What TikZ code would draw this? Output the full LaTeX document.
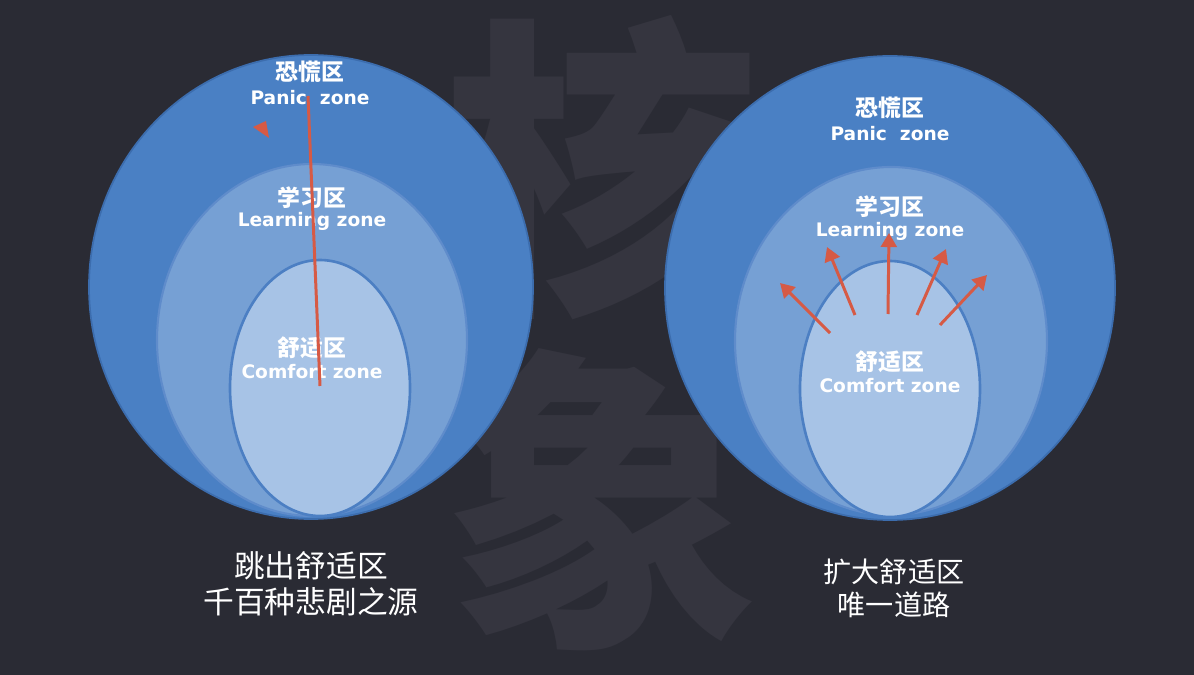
\documentclass[tikz,border=0pt]{standalone}
\usepackage{fontspec}
\usepackage{tikz}
\usetikzlibrary{arrows.meta}
\newfontfamily\cjk{Noto Sans CJK SC}
\newfontfamily\lab{DejaVu Sans}
\definecolor{bgdark}{HTML}{2A2B34}
\definecolor{wmgray}{HTML}{35353F}
\definecolor{panicblue}{HTML}{4A80C4}
\definecolor{panicedge}{HTML}{3C6DAE}
\definecolor{learnblue}{HTML}{76A0D4}
\definecolor{learnedge}{HTML}{5F8CCB}
\definecolor{comfortblue}{HTML}{A7C3E6}
\definecolor{comfortedge}{HTML}{4C7FC3}
\definecolor{arrowred}{HTML}{D65A45}

\begin{document}
\begin{tikzpicture}[x=0.02cm,y=-0.02cm]
\tikzstyle{cnlabel}=[text=white, inner sep=0pt, font=\cjk\bfseries\fontsize{13}{13}\selectfont]
\tikzstyle{enlabel}=[text=white, inner sep=0pt, font=\lab\bfseries\fontsize{10.6}{10.6}\selectfont]
\tikzstyle{caption}=[text=white, inner sep=0pt]
\tikzstyle{watermark}=[text=wmgray, inner sep=0pt, font=\cjk\bfseries\fontsize{180}{180}\selectfont]
\tikzstyle{push}=[draw=arrowred, line width=1.7pt, -{Triangle[length=8pt,width=9pt]}]
\useasboundingbox (0,0) rectangle (1194,675);
\fill[bgdark] (0,0) rectangle (1194,675);

% background characters
\node[watermark] (wm-top) at (602,168) {核};
\node[watermark] (wm-bottom) at (602,500) {象};

% left: zones
\fill[panicblue, draw=panicedge, line width=1pt] (311,287) ellipse (222 and 232);
\fill[learnblue, draw=learnedge, line width=1.2pt] (312,340) ellipse (155 and 176);
\fill[comfortblue, draw=comfortedge, line width=1.5pt] (320,388) ellipse (90 and 128);

% right: zones
\fill[panicblue, draw=panicedge, line width=1pt] (890,288) ellipse (225 and 232);
\fill[learnblue, draw=learnedge, line width=1.2pt] (891,341) ellipse (156 and 174);
\fill[comfortblue, draw=comfortedge, line width=1.5pt] (890,389) ellipse (90 and 128);

% left: labels
\node[cnlabel] (pL-cn) at (310,72) {恐慌区};
\node[enlabel] (pL-en) at (310,98) {Panic\ \ zone};
\node[cnlabel] (lL-cn) at (312,198) {学习区};
\node[enlabel] (lL-en) at (312,221) {Learning zone};
\node[cnlabel] (cL-cn) at (312,348) {舒适区};
\node[enlabel] (cL-en) at (312,372) {Comfort zone};

% right: labels
\node[cnlabel] (pR-cn) at (890,108) {恐慌区};
\node[enlabel] (pR-en) at (890,134) {Panic\ \ zone};
\node[cnlabel] (lR-cn) at (890,207) {学习区};
\node[enlabel] (lR-en) at (890,231) {Learning zone};
\node[cnlabel] (cR-cn) at (890,362) {舒适区};
\node[enlabel] (cR-en) at (890,386) {Comfort zone};

% left: the jump out
\coordinate (jump-from) at (320,386);
\coordinate (jump-to) at (308,96);
\draw[arrowred, line width=1.7pt] (jump-from) -- (jump-to);
\fill[arrowred] (253,127) -- (266,121) -- (269,138) -- cycle;

% right: growing out of the comfort zone
\coordinate (g1-from) at (830,333);
\coordinate (g1-to) at (780,283);
\coordinate (g2-from) at (855,315);
\coordinate (g2-to) at (827,247);
\coordinate (g3-from) at (888,314);
\coordinate (g3-to) at (889,233);
\coordinate (g4-from) at (917,315);
\coordinate (g4-to) at (946,249);
\coordinate (g5-from) at (940,325);
\coordinate (g5-to) at (987,275);
\draw[push] (g1-from) -- (g1-to);
\draw[push] (g2-from) -- (g2-to);
\draw[push] (g3-from) -- (g3-to);
\draw[push] (g4-from) -- (g4-to);
\draw[push] (g5-from) -- (g5-to);

% captions
\node[caption, font=\cjk\fontsize{17.5}{17.5}\selectfont] (capL-1) at (311,566) {跳出舒适区};
\node[caption, font=\cjk\fontsize{17.5}{17.5}\selectfont] (capL-2) at (311,602) {千百种悲剧之源};
\node[caption, font=\cjk\fontsize{16}{16}\selectfont] (capR-1) at (894,572) {扩大舒适区};
\node[caption, font=\cjk\fontsize{16}{16}\selectfont] (capR-2) at (894,605) {唯一道路};
\end{tikzpicture}
\end{document}
